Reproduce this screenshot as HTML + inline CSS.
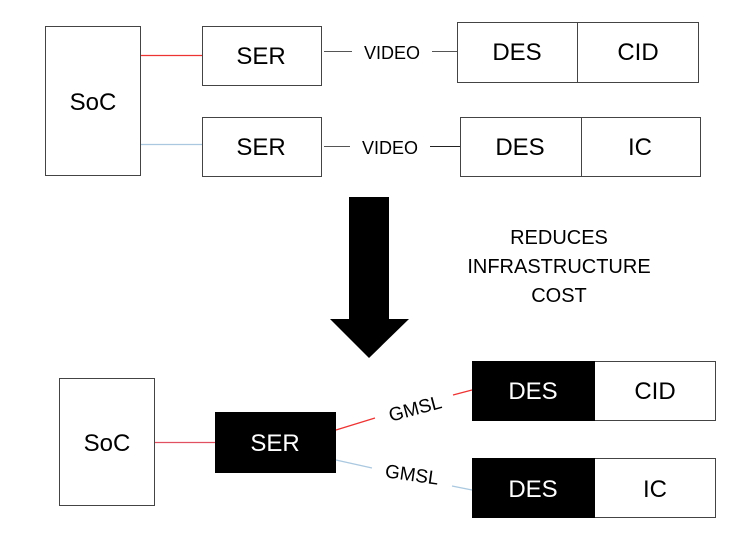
<!DOCTYPE html>
<html><head><meta charset="utf-8"><style>
html,body{margin:0;padding:0;background:#fff;}
svg{display:block;}
text{font-family:"Liberation Sans","DejaVu Sans",sans-serif;fill:#000;}
</style></head><body>
<svg width="740" height="541" viewBox="0 0 740 541" xmlns="http://www.w3.org/2000/svg">
<g fill="#fff" stroke="#444" stroke-width="1">
<rect x="45.5" y="26.5" width="95" height="149"/>
<rect x="202.5" y="26.5" width="119" height="59"/>
<rect x="202.5" y="117.5" width="119" height="59"/>
<rect x="457.5" y="22.5" width="241" height="60"/>
<rect x="460.5" y="117.5" width="240" height="59"/>
</g>
<line x1="577.5" y1="22" x2="577.5" y2="82" stroke="#444"/>
<line x1="581.5" y1="117" x2="581.5" y2="176" stroke="#444"/>
<line x1="141" y1="55.5" x2="202" y2="55.5" stroke="#e33" stroke-width="1.2"/>
<line x1="141" y1="144.5" x2="202" y2="144.5" stroke="#aac8e0" stroke-width="1.2"/>
<line x1="324" y1="51.5" x2="352" y2="51.5" stroke="#555"/>
<line x1="432" y1="51.5" x2="457" y2="51.5" stroke="#555"/>
<line x1="324" y1="146.5" x2="350" y2="146.5" stroke="#555"/>
<line x1="430" y1="146.5" x2="460" y2="146.5" stroke="#222"/>
<g font-size="24" text-anchor="middle">
<text x="93" y="110">SoC</text>
<text x="261" y="64">SER</text>
<text x="261" y="155">SER</text>
<text x="517" y="60">DES</text>
<text x="638" y="60">CID</text>
<text x="520" y="155">DES</text>
<text x="640" y="155">IC</text>
</g>
<text x="392" y="59" font-size="18" text-anchor="middle">VIDEO</text>
<text x="390" y="154" font-size="18" text-anchor="middle">VIDEO</text>
<polygon points="349,197 389,197 389,319 409,319 369,358 330,319 349,319" fill="#000"/>
<g font-size="20" text-anchor="middle">
<text x="559" y="244">REDUCES</text>
<text x="559" y="273">INFRASTRUCTURE</text>
<text x="559" y="302">COST</text>
</g>
<rect x="59.5" y="378.5" width="95" height="127" fill="#fff" stroke="#444"/>
<rect x="215" y="412" width="121" height="61" fill="#000"/>
<rect x="472.5" y="361.5" width="243" height="59" fill="#fff" stroke="#444"/>
<rect x="472" y="361" width="123" height="60" fill="#000"/>
<rect x="472.5" y="458.5" width="243" height="59" fill="#fff" stroke="#444"/>
<rect x="472" y="458" width="123" height="60" fill="#000"/>
<line x1="155" y1="442.5" x2="215" y2="442.5" stroke="#e05060" stroke-width="1.2"/>
<line x1="336" y1="430" x2="375" y2="418" stroke="#e33" stroke-width="1.2"/>
<line x1="453" y1="395" x2="472" y2="390" stroke="#e33" stroke-width="1.2"/>
<line x1="336" y1="460" x2="372" y2="468" stroke="#aac8e0" stroke-width="1.2"/>
<line x1="452" y1="486" x2="472" y2="490" stroke="#aac8e0" stroke-width="1.2"/>
<g font-size="24" text-anchor="middle">
<text x="107" y="451">SoC</text>
<text x="275" y="451" style="fill:#fff">SER</text>
<text x="533" y="399" style="fill:#fff">DES</text>
<text x="655" y="399">CID</text>
<text x="533" y="497" style="fill:#fff">DES</text>
<text x="655" y="497">IC</text>
</g>
<text x="415" y="415" font-size="19" text-anchor="middle" transform="rotate(-15 415 408)">GMSL</text>
<text x="412" y="481" font-size="19" text-anchor="middle" transform="rotate(8 412 474)">GMSL</text>
</svg>
</body></html>
